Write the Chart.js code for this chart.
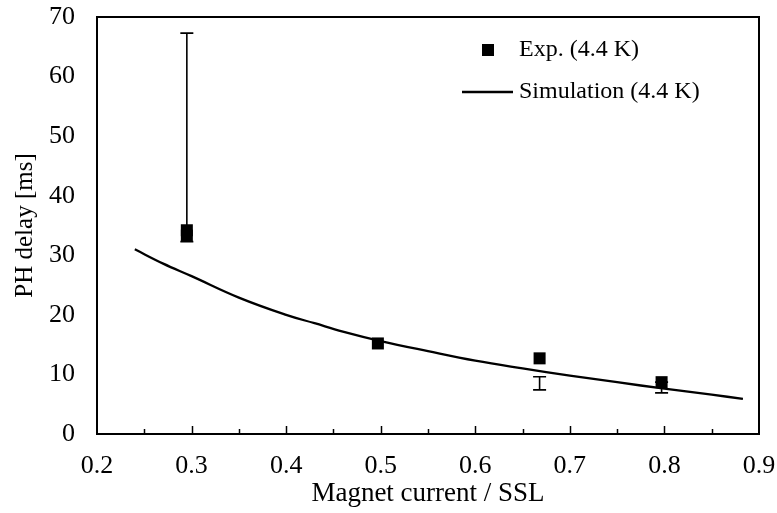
<!DOCTYPE html>
<html>
<head>
<meta charset="utf-8">
<script src="https://cdn.jsdelivr.net/npm/chart.js@4.4.0/dist/chart.umd.min.js"></script>
<style>
  html, body { margin: 0; padding: 0; background: #fff; }
</style>
</head>
<body>
<canvas id="phChart" width="777" height="513"></canvas>
<script>
// measured points (magnet current / SSL vs PH delay in ms)
const expX = [0.295, 0.295, 0.497, 0.668, 0.797];
const expY = [34.2, 33.3, 15.2, 12.7, 8.7];
// error bars: x, low, high
const errX = [0.295, 0.668, 0.797];
const errLow = [32.3, 7.4, 6.9];
const errHigh = [67.3, 9.6, 8.7];

// simulation curve
const simX = [0.24, 0.27, 0.30, 0.35, 0.40, 0.43, 0.46, 0.50, 0.55, 0.60, 0.65, 0.70, 0.75, 0.80, 0.85, 0.883];
const simY = [31.0, 28.6, 26.5, 22.9, 20.0, 18.6, 17.2, 15.6, 13.9, 12.3, 11.0, 9.8, 8.7, 7.6, 6.6, 5.9];

const expLabel = 'Exp. (4.4 K)';
const simLabel = 'Simulation (4.4 K)';
const FONT = '"Liberation Serif", "Times New Roman", serif';

// error bars, frame, inner ticks and legend
const extras = {
    id: 'extras',
    beforeDatasetsDraw(chart) {
        const ctx = chart.ctx;
        const xs = chart.scales.x, ys = chart.scales.y;
        ctx.save();
        ctx.strokeStyle = '#000';
        ctx.lineWidth = 1.6;
        for (let i = 0; i < errX.length; i++) {
            const px = xs.getPixelForValue(errX[i]);
            const lo = ys.getPixelForValue(errLow[i]);
            const hi = ys.getPixelForValue(errHigh[i]);
            ctx.beginPath();
            ctx.moveTo(px, lo); ctx.lineTo(px, hi);
            ctx.moveTo(px - 6.5, lo); ctx.lineTo(px + 6.5, lo);
            ctx.moveTo(px - 6.5, hi); ctx.lineTo(px + 6.5, hi);
            ctx.stroke();
        }
        ctx.restore();
    },
    afterDraw(chart) {
        const ctx = chart.ctx;
        const a = chart.chartArea;
        const xs = chart.scales.x;
        ctx.save();
        ctx.strokeStyle = '#000';
        ctx.lineWidth = 2;
        ctx.strokeRect(a.left, a.top, a.right - a.left, a.bottom - a.top);
        // inner ticks on x axis, major every 0.1, minor every 0.05
        ctx.lineWidth = 1.5;
        for (let k = 1; k < 14; k++) {
            const v = 0.2 + k * 0.05;
            const px = Math.round(xs.getPixelForValue(v)) + 0.5;
            const len = k % 2 === 0 ? 8 : 5;
            ctx.beginPath();
            ctx.moveTo(px, a.bottom);
            ctx.lineTo(px, a.bottom - len);
            ctx.stroke();
        }
        // legend
        ctx.fillStyle = '#000';
        ctx.fillRect(482, 44, 12, 12);
        ctx.lineWidth = 2.5;
        ctx.beginPath();
        ctx.moveTo(462, 92); ctx.lineTo(513, 92);
        ctx.stroke();
        ctx.font = '24px ' + FONT;
        ctx.textBaseline = 'middle';
        ctx.fillText(expLabel, 519, 50);
        ctx.fillText(simLabel, 519, 92);
        ctx.restore();
    }
};

new Chart(document.getElementById('phChart'), {
    type: 'scatter',
    data: {
        datasets: [{
            label: expLabel,
            data: expX.map((x, i) => ({ x: x, y: expY[i] })),
            pointStyle: 'rect',
            pointRadius: 8.5,
            backgroundColor: '#000',
            borderColor: '#000',
            borderWidth: 0,
            showLine: false
        }, {
            label: simLabel,
            data: simX.map((x, i) => ({ x: x, y: simY[i] })),
            showLine: true,
            borderColor: '#000',
            borderWidth: 2.3,
            pointRadius: 0,
            tension: 0.4,
            fill: false
        }]
    },
    options: {
        responsive: false,
        animation: false,
        layout: { padding: { left: 0, right: 18, top: 17, bottom: 0 } },
        plugins: {
            legend: { display: false },
            tooltip: { enabled: false }
        },
        scales: {
            x: {
                type: 'linear',
                min: 0.2,
                max: 0.9,
                grid: { display: false, drawTicks: false },
                border: { display: false },
                ticks: {
                    stepSize: 0.1,
                    autoSkip: false,
                    maxRotation: 0,
                    padding: 17,
                    color: '#000',
                    font: { family: FONT, size: 26 },
                    callback: v => v.toFixed(1)
                },
                title: {
                    display: true,
                    text: 'Magnet current / SSL',
                    color: '#000',
                    font: { family: FONT, size: 27 },
                    padding: { top: 0, bottom: 3 }
                },
                afterFit: s => {
                    s.height = 79;
                    s.paddingLeft = 0;
                    s.paddingRight = 0;
                }
            },
            y: {
                min: 0,
                max: 70,
                grid: { display: false, drawTicks: false },
                border: { display: false },
                ticks: {
                    stepSize: 10,
                    autoSkip: false,
                    padding: 22,
                    color: '#000',
                    font: { family: FONT, size: 26 }
                },
                title: {
                    display: true,
                    text: 'PH delay [ms]',
                    color: '#000',
                    font: { family: FONT, size: 25 },
                    padding: { top: 10, bottom: 0 }
                },
                afterFit: s => {
                    s.width = 97;
                    s.paddingTop = 0;
                    s.paddingBottom = 0;
                }
            }
        }
    },
    plugins: [extras]
});
</script>
</body>
</html>
